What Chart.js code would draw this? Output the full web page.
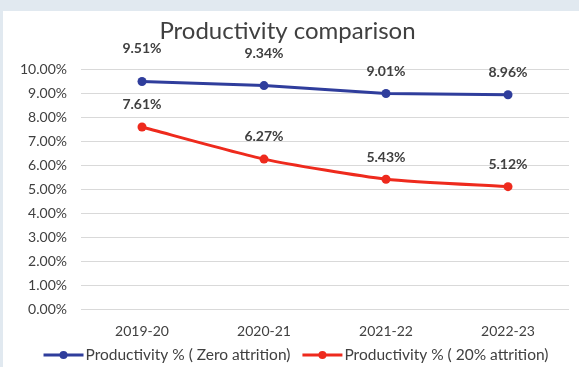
<!DOCTYPE html>
<html>
<head>
<meta charset="utf-8">
<script src="https://cdn.jsdelivr.net/npm/chart.js@4/dist/chart.umd.min.js"></script>
<style>
  html, body { margin: 0; padding: 0; background: #e1e9f0; }
  #wrap { position: absolute; left: 3px; top: 11px; width: 576px; height: 356px; background: #ffffff; }
</style>
</head>
<body>
<div id="wrap"><canvas id="chart"></canvas></div>
<script>
// Productivity comparison - line chart
const years = ['2019-20', '2020-21', '2021-22', '2022-23'];
const zeroAttrition = [9.51, 9.34, 9.01, 8.96];
const twentyAttrition = [7.61, 6.27, 5.43, 5.12];
const yTicks = [0, 1, 2, 3, 4, 5, 6, 7, 8, 9, 10];

const FONT = 'Lato, "Open Sans", sans-serif';
const BLUE = '#2f3d9c';
const RED = '#ee2a1d';
const TEXT = '#404040';

// labels above each point, like Excel data labels
const pointLabels = {
  id: 'pointLabels',
  afterDatasetsDraw(chart) {
    const ctx = chart.ctx;
    ctx.save();
    ctx.font = 'bold 14px ' + FONT;
    ctx.fillStyle = TEXT;
    ctx.textAlign = 'center';
    ctx.textBaseline = 'middle';
    chart.data.datasets.forEach((ds, i) => {
      const meta = chart.getDatasetMeta(i);
      meta.data.forEach((pt, j) => {
        const off = ds.labelOffsets ? ds.labelOffsets[j] : 22;
        ctx.fillText(ds.data[j].toFixed(2) + '%', pt.x, pt.y - off);
      });
    });
    ctx.restore();
  }
};

// Excel style legend: line with a dot through it
const lineLegend = {
  id: 'lineLegend',
  afterDraw(chart) {
    const ctx = chart.ctx;
    const lineLen = 40, gapText = 2, gapItem = 12;
    const y = chart.height - 12;
    ctx.save();
    ctx.font = '15.5px ' + FONT;
    ctx.textBaseline = 'middle';
    ctx.textAlign = 'left';
    const items = chart.data.datasets.map(ds => ({ ds, w: ctx.measureText(ds.label).width }));
    const total = items.reduce((s, it) => s + lineLen + gapText + it.w, 0) + gapItem * (items.length - 1);
    let x = chart.width / 2 + 5 - total / 2;
    items.forEach(it => {
      ctx.strokeStyle = it.ds.borderColor;
      ctx.lineWidth = 3;
      ctx.beginPath();
      ctx.moveTo(x, y);
      ctx.lineTo(x + lineLen, y);
      ctx.stroke();
      ctx.fillStyle = it.ds.borderColor;
      ctx.beginPath();
      ctx.arc(x + lineLen / 2, y, 4, 0, Math.PI * 2);
      ctx.fill();
      ctx.fillStyle = TEXT;
      ctx.fillText(it.ds.label, x + lineLen + gapText, y);
      x += lineLen + gapText + it.w + gapItem;
    });
    ctx.restore();
  }
};

new Chart(document.getElementById('chart').getContext('2d'), {
  type: 'line',
  data: {
    labels: years,
    datasets: [{
      label: 'Productivity % ( Zero attrition)',
      data: zeroAttrition,
      borderColor: BLUE,
      backgroundColor: BLUE,
      borderWidth: 3,
      pointRadius: 4.5,
      pointBackgroundColor: BLUE,
      pointBorderWidth: 0,
      tension: 0,
      labelOffsets: [33, 32, 22, 22]
    }, {
      label: 'Productivity % ( 20% attrition)',
      data: twentyAttrition,
      borderColor: RED,
      backgroundColor: RED,
      borderWidth: 3,
      pointRadius: 4.5,
      pointBackgroundColor: RED,
      pointBorderWidth: 0,
      tension: 0.2,
      labelOffsets: [23, 23, 22, 22]
    }]
  },
  options: {
    responsive: true,
    maintainAspectRatio: false,
    animation: false,
    layout: { padding: { left: 3, right: 10, top: 4, bottom: 21 } },
    plugins: {
      title: {
        display: true,
        text: 'Productivity comparison',
        color: TEXT,
        font: { family: FONT, size: 24, weight: 'normal' },
        padding: { top: 2, bottom: 24 }
      },
      legend: { display: false },
      tooltip: { enabled: false }
    },
    scales: {
      x: {
        offset: true,
        grid: { display: false },
        border: { display: false },
        ticks: { color: TEXT, font: { family: FONT, size: 14 }, padding: 6 }
      },
      y: {
        min: 0,
        max: 10,
        afterBuildTicks(axis) { axis.ticks = yTicks.map(v => ({ value: v })); },
        grid: { color: '#d9d9d9', drawTicks: false },
        border: { display: false },
        ticks: {
          color: TEXT,
          font: { family: FONT, size: 14 },
          padding: 14,
          callback: v => v.toFixed(2) + '%'
        }
      }
    }
  },
  plugins: [pointLabels, lineLegend]
});
</script>
</body>
</html>
